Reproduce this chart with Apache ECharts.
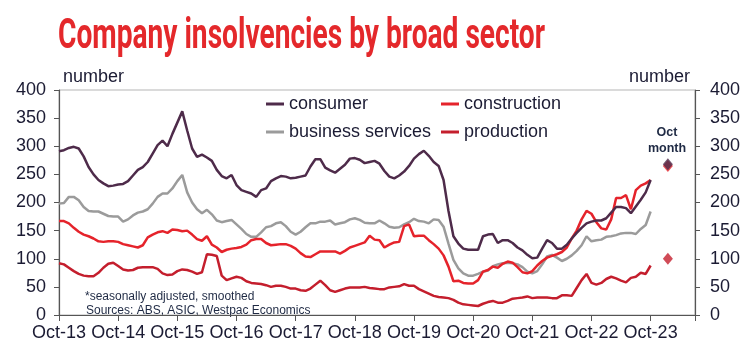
<!DOCTYPE html>
<html>
<head>
<meta charset="utf-8">
<script src="https://cdn.jsdelivr.net/npm/echarts@6/dist/echarts.min.js"></script>
<style>html,body{margin:0;padding:0;background:#fff;}#c{width:753px;height:358px;}</style>
</head>
<body>
<div id="c"></div>
<script>
// Monthly data, Oct-13 (index 0) to Oct-23 (index 120)
const xLabels = ['Oct-13','Oct-14','Oct-15','Oct-16','Oct-17','Oct-18','Oct-19','Oct-20','Oct-21','Oct-22','Oct-23'];
const consumer = [291,293,297,299,296,282,263,250,240,234,
229,230,232,233,238,248,258,263,272,287,
302,310,300,322,342,362,328,296,281,285,
280,274,258,247,243,249,231,222,219,216,
210,222,225,238,243,247,246,243,244,246,
248,264,277,277,262,257,253,260,267,278,
279,276,270,272,274,269,256,246,243,248,
255,265,278,286,292,283,272,265,240,185,
140,127,118,116,116,116,140,143,144,128,
133,133,128,120,115,107,101,102,118,133,
128,118,118,125,136,146,155,163,166,168,
168,172,182,192,192,190,181,193,205,218,
240];
const businessServices = [198,199,210,210,204,192,185,184,184,180,
176,175,175,166,170,177,182,184,188,198,
210,216,216,225,238,249,218,200,188,181,
187,179,168,165,167,169,161,153,144,139,
139,147,156,158,163,165,158,148,143,148,
156,163,163,166,166,168,161,163,165,170,
172,169,164,163,163,168,163,157,155,156,
161,165,171,167,166,163,170,169,157,127,
98,83,74,70,70,73,77,79,87,90,
92,93,92,90,85,77,74,78,90,104,
107,102,96,100,106,114,124,140,131,133,
134,139,140,142,145,146,146,144,153,160,
184];
const construction = [167,167,163,155,148,143,140,136,131,130,
131,131,130,126,124,122,120,124,138,143,
147,149,146,152,151,149,150,143,135,132,
140,125,120,112,116,118,119,121,125,133,
135,135,128,124,125,126,126,123,118,110,
104,103,108,113,113,113,113,109,114,120,
123,126,129,141,134,133,120,125,129,130,
158,161,140,141,141,133,126,118,106,86,
60,61,57,56,56,62,77,80,86,84,
91,95,93,85,76,74,78,88,96,102,
105,108,112,120,136,150,170,185,180,165,
154,152,170,208,208,213,188,222,230,234,
240];
const production = [92,90,84,78,73,70,69,69,75,84,
91,93,87,81,79,80,84,85,85,85,
82,74,71,72,78,81,80,77,73,76,
108,107,105,70,62,65,68,66,60,57,
56,55,53,50,52,52,50,47,47,44,
43,47,54,61,53,44,41,44,47,49,
49,49,50,48,47,46,46,49,50,51,
55,52,52,46,42,38,34,32,31,30,
27,22,19,18,17,16,20,23,25,22,
22,25,29,30,31,33,30,31,31,31,
30,30,35,35,34,48,62,73,57,54,
57,64,68,65,61,58,66,68,75,73,
88];
// "Oct month" single-month readings
const octMonth = {consumer: 268, construction: 265, production: 100};

const C_CONS = '#4E2B4A', C_CONSTR = '#E5232B', C_BUS = '#9B9B9B', C_PROD = '#C41E2D';
const TXT = '#1B1B33';
const toPairs = arr => arr.map((v, i) => [i, v]);
const OCT_X = 123.5;

const titleText = 'Company insolvencies by broad sector';
const titleFont = 'bold 42px Roboto';
const cv = document.createElement('canvas').getContext('2d');
cv.font = titleFont;
const tw = cv.measureText(titleText).width;
const titleScale = 487 / tw;

const chart = echarts.init(document.getElementById('c'), null, {renderer: 'canvas'});
chart.setOption({
  animation: false,
  backgroundColor: '#fff',
  grid: {left: 59, right: 58, top: 90, bottom: 43, show: true, borderColor: '#b5b5b5', borderWidth: 1},
  legend: [
    {data: ['consumer', 'business services'], orient: 'vertical', left: 261, top: 90, itemGap: 10,
     itemWidth: 18, itemHeight: 3, icon: 'rect', textStyle: {fontSize: 18, color: TXT, fontFamily: 'Liberation Sans', lineHeight: 18}},
    {data: ['construction', 'production'], orient: 'vertical', left: 436, top: 90, itemGap: 10,
     itemWidth: 18, itemHeight: 3, icon: 'rect', textStyle: {fontSize: 18, color: TXT, fontFamily: 'Liberation Sans', lineHeight: 18}}
  ],
  xAxis: {
    type: 'value', min: 0, max: 129, interval: 12,
    axisLine: {lineStyle: {color: '#555', width: 1.2}},
    axisTick: {show: true, length: 6, lineStyle: {color: '#555'}},
    axisLabel: {fontSize: 18, color: TXT, fontFamily: 'Liberation Sans', margin: 9,
      formatter: v => (v % 12 === 0 && v / 12 < xLabels.length) ? xLabels[v / 12] : ''},
    splitLine: {show: false}
  },
  yAxis: [
    {type: 'value', min: 0, max: 400, interval: 50, position: 'left',
     axisLine: {show: true, lineStyle: {color: '#555', width: 1.2}},
     axisTick: {show: true, length: 5, lineStyle: {color: '#555'}},
     axisLabel: {fontSize: 18, color: TXT, fontFamily: 'Liberation Sans', margin: 13},
     splitLine: {show: false}},
    {type: 'value', min: 0, max: 400, interval: 50, position: 'right',
     axisLine: {show: true, lineStyle: {color: '#555', width: 1.2}},
     axisTick: {show: true, length: 5, lineStyle: {color: '#555'}},
     axisLabel: {fontSize: 18, color: TXT, fontFamily: 'Liberation Sans', margin: 15},
     splitLine: {show: false}}
  ],
  series: [
    {name: 'production', type: 'line', data: toPairs(production), showSymbol: false, color: C_PROD, lineStyle: {width: 2.5, color: C_PROD}},
    {name: 'business services', type: 'line', data: toPairs(businessServices), showSymbol: false, color: C_BUS, lineStyle: {width: 2.5, color: C_BUS}},
    {name: 'construction', type: 'line', data: toPairs(construction), showSymbol: false, color: C_CONSTR, lineStyle: {width: 2.5, color: C_CONSTR}},
    {name: 'consumer', type: 'line', data: toPairs(consumer), showSymbol: false, color: C_CONS, lineStyle: {width: 2.5, color: C_CONS}},
    {name: 'oct-construction', type: 'scatter', symbol: 'diamond', symbolSize: [10, 12], data: [[OCT_X, octMonth.construction]], itemStyle: {color: C_CONSTR}},
    {name: 'oct-production', type: 'scatter', symbol: 'diamond', symbolSize: [10, 12], data: [[OCT_X, octMonth.production]], itemStyle: {color: C_PROD}},
    {name: 'oct-consumer', type: 'scatter', symbol: 'diamond', symbolSize: [10, 12], data: [[OCT_X, octMonth.consumer]], itemStyle: {color: C_CONS}}
  ],
  graphic: [
    {type: 'text', left: 58, top: 16, scaleX: titleScale, style: {text: titleText, font: titleFont, fill: '#E4282B'}},
    {type: 'text', left: 63, top: 68, style: {text: 'number', font: '18px "Liberation Sans"', fill: TXT}},
    {type: 'text', right: 63, top: 68, style: {text: 'number', font: '18px "Liberation Sans"', fill: TXT}},
    {type: 'text', x: 667, y: 125, style: {text: 'Oct\nmonth', font: 'bold 12.5px "Liberation Sans"', fill: '#1F2A44', align: 'center', lineHeight: 16}},
    {type: 'text', x: 85, y: 291, style: {text: '*seasonally adjusted, smoothed', font: '12px "Liberation Sans"', fill: '#1F2A44'}},
    {type: 'text', x: 86, y: 305, style: {text: 'Sources: ABS, ASIC, Westpac Economics', font: '12px "Liberation Sans"', fill: '#1F2A44'}}
  ]
});
</script>
</body>
</html>
